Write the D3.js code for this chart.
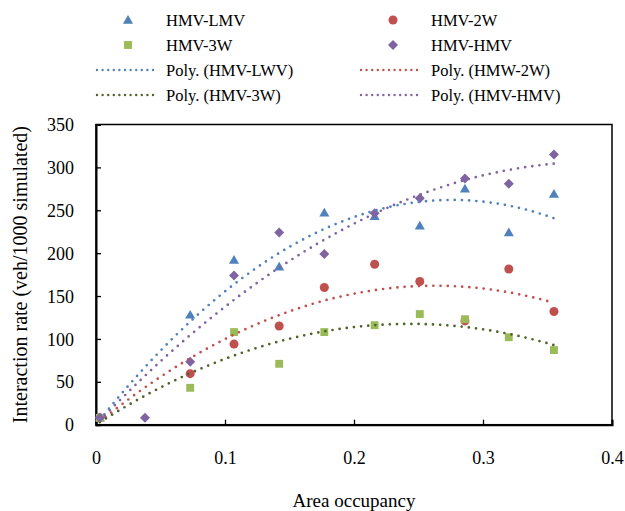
<!DOCTYPE html>
<html>
<head>
<meta charset="utf-8">
<script src="https://cdn.jsdelivr.net/npm/d3@7"></script>
<style>
  html, body { margin: 0; padding: 0; background: #fff; }
  svg { display: block; font-family: "Liberation Serif", "Times New Roman", serif; }
</style>
</head>
<body>
<svg id="chart" width="625" height="511"></svg>
<script>
// Area occupancy values for each sample
const xLMV = [0.003, 0.073, 0.107, 0.142, 0.177, 0.216, 0.251, 0.286, 0.320, 0.355];
const x2W  = [0.003, 0.073, 0.107, 0.142, 0.177, 0.216, 0.251, 0.286, 0.320, 0.355];
const x3W  = [0.003, 0.073, 0.107, 0.142, 0.177, 0.216, 0.251, 0.286, 0.320, 0.355];
const xHMV = [0.003, 0.038, 0.073, 0.107, 0.142, 0.177, 0.216, 0.251, 0.286, 0.320, 0.355];

// Interaction rate (veh/1000 simulated)
const yLMV = [8, 128, 192, 184, 247, 243, 232, 275, 224, 269];
const y2W  = [8, 59.5, 94, 115, 160, 187, 167, 121, 181.5, 132];
const y3W  = [8, 43, 108, 71, 108, 116, 129, 123, 102, 87];
const yHMV = [8, 8, 73.5, 174, 224, 199, 246.5, 264, 287, 281, 315];

const seriesNames = ["HMV-LMV", "HMV-2W", "HMV-3W", "HMV-HMV"];
const trendNames  = ["Poly. (HMV-LWV)", "Poly. (HMW-2W)", "Poly. (HMV-3W)", "Poly. (HMV-HMV)"];

const xTicks = [0, 0.1, 0.2, 0.3, 0.4];
const yTicks = [0, 50, 100, 150, 200, 250, 300, 350];

const markerColors = ["#4F81BD", "#C0504D", "#9BBB59", "#8064A2"];
const trendColors  = ["#4F81BD", "#C0504D", "#4F6228", "#8064A2"];
const symbols = ["triangle", "circle", "square", "diamond"];

const series = [
  { name: seriesNames[0], trend: trendNames[0], xs: xLMV, ys: yLMV },
  { name: seriesNames[1], trend: trendNames[1], xs: x2W,  ys: y2W  },
  { name: seriesNames[2], trend: trendNames[2], xs: x3W,  ys: y3W  },
  { name: seriesNames[3], trend: trendNames[3], xs: xHMV, ys: yHMV }
];

const svg = d3.select("#chart");
const plot = { left: 96, top: 124.5, right: 612, bottom: 424.7 };

const x = d3.scaleLinear().domain([0, 0.4]).range([plot.left, plot.right]);
const y = d3.scaleLinear().domain([0, 350]).range([plot.bottom, plot.top]);

// Second-order least squares fit with the intercept fixed at zero
function polyFit2(xs, ys) {
  let s2 = 0, s3 = 0, s4 = 0, t1 = 0, t2 = 0;
  xs.forEach((xv, i) => {
    const x2 = xv * xv;
    s2 += x2; s3 += x2 * xv; s4 += x2 * x2;
    t1 += xv * ys[i]; t2 += x2 * ys[i];
  });
  const det = s2 * s4 - s3 * s3;
  const a = (t1 * s4 - s3 * t2) / det;
  const b = (s2 * t2 - s3 * t1) / det;
  return xv => a * xv + b * xv * xv;
}

function symbolPath(kind, g) {
  if (kind === "triangle") {
    g.append("path").attr("d", d3.symbol(d3.symbolTriangle, 44)()).attr("transform", "translate(0,0.8)");
  } else if (kind === "circle") {
    g.append("path").attr("d", d3.symbol(d3.symbolCircle, 64)());
  } else if (kind === "square") {
    g.append("path").attr("d", d3.symbol(d3.symbolSquare, 62)());
  } else {
    g.append("path").attr("d", d3.symbol(d3.symbolSquare, 50)()).attr("transform", "rotate(45)");
  }
}

// Plot area frame
svg.append("rect")
  .attr("x", plot.left).attr("y", plot.top)
  .attr("width", plot.right - plot.left).attr("height", plot.bottom - plot.top)
  .attr("fill", "none").attr("stroke", "#000").attr("stroke-width", 1.5);

// Axes with inward ticks
const xAxis = d3.axisBottom(x).tickValues(xTicks).tickSize(-5).tickPadding(0)
  .tickFormat(d => d === 0 ? "0" : d3.format(".1f")(d));
const gx = svg.append("g").attr("transform", `translate(0,${plot.bottom})`).call(xAxis);
gx.select(".domain").attr("stroke-width", 2);
gx.selectAll(".tick line").attr("stroke-width", 1.3);
gx.selectAll(".tick text").attr("font-size", 18).attr("font-family", "Liberation Serif")
  .attr("fill", "#000").attr("y", 39.5).attr("dy", 0);

const yAxis = d3.axisLeft(y).tickValues(yTicks).tickSize(-5).tickPadding(0);
const gy = svg.append("g").attr("transform", `translate(${plot.left},0)`).call(yAxis);
gy.select(".domain").attr("stroke-width", 2);
gy.selectAll(".tick line").attr("stroke-width", 1.3);
gy.selectAll(".tick text").attr("font-size", 18).attr("font-family", "Liberation Serif")
  .attr("fill", "#000").attr("x", -22).attr("dy", "0.34em");

// Axis titles
svg.append("text")
  .attr("x", (plot.left + plot.right) / 2).attr("y", 507)
  .attr("text-anchor", "middle").attr("font-size", 19).text("Area occupancy");
svg.append("text")
  .attr("transform", `translate(27,${(plot.top + plot.bottom) / 2}) rotate(-90)`)
  .attr("text-anchor", "middle").attr("font-size", 20)
  .text("Interaction rate (veh/1000 simulated)");

// Data markers
series.forEach((s, i) => {
  const g = svg.append("g").attr("fill", markerColors[i]);
  s.xs.forEach((xv, j) => {
    const m = g.append("g").attr("transform", `translate(${x(xv)},${y(s.ys[j])})`);
    symbolPath(symbols[i], m);
  });
});

// Polynomial trendlines
series.forEach((s, i) => {
  const f = polyFit2(s.xs, s.ys);
  const x0 = d3.min(s.xs), x1 = d3.max(s.xs);
  const pts = d3.range(0, 101).map(k => x0 + (x1 - x0) * k / 100);
  svg.append("path")
    .attr("d", d3.line().x(d => x(d)).y(d => y(f(d)))(pts))
    .attr("fill", "none").attr("stroke", trendColors[i])
    .attr("stroke-width", 2.7).attr("stroke-linecap", "round")
    .attr("stroke-dasharray", "0,7.2");
});

// Legend
const legendRows = [
  { col: 0, row: 0, type: "marker", idx: 0 },
  { col: 1, row: 0, type: "marker", idx: 1 },
  { col: 0, row: 1, type: "marker", idx: 2 },
  { col: 1, row: 1, type: "marker", idx: 3 },
  { col: 0, row: 2, type: "trend", idx: 0 },
  { col: 1, row: 2, type: "trend", idx: 1 },
  { col: 0, row: 3, type: "trend", idx: 2 },
  { col: 1, row: 3, type: "trend", idx: 3 }
];
const colX = [{ mark: 128, l0: 97, l1: 157, text: 166 }, { mark: 393, l0: 361, l1: 422, text: 431 }];
const rowY = [20, 45, 70, 95];
const lg = svg.append("g").attr("font-size", 16.5);
legendRows.forEach(r => {
  const c = colX[r.col], yy = rowY[r.row];
  if (r.type === "marker") {
    const m = lg.append("g").attr("fill", markerColors[r.idx])
      .attr("transform", `translate(${c.mark},${yy})`);
    symbolPath(symbols[r.idx], m);
    lg.append("text").attr("x", c.text).attr("y", yy).attr("dy", "0.34em")
      .text(series[r.idx].name);
  } else {
    lg.append("line").attr("x1", c.l0).attr("x2", c.l1).attr("y1", yy).attr("y2", yy)
      .attr("stroke", trendColors[r.idx]).attr("stroke-width", 2.4)
      .attr("stroke-linecap", "round").attr("stroke-dasharray", "0,5.6");
    lg.append("text").attr("x", c.text).attr("y", yy).attr("dy", "0.34em")
      .text(series[r.idx].trend);
  }
});
</script>
</body>
</html>
